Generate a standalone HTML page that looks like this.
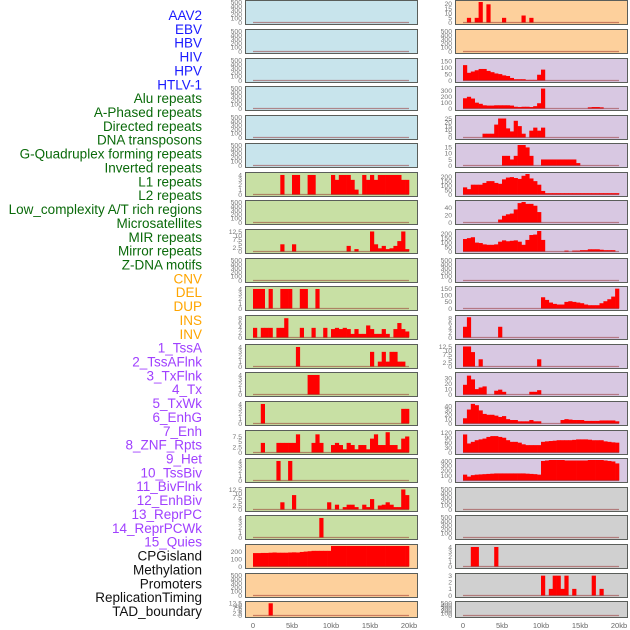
<!DOCTYPE html>
<html><head><meta charset="utf-8"><style>
html,body{margin:0;padding:0;background:#fff;}
svg{display:block;font-family:"Liberation Sans",sans-serif;}
</style></head><body>
<svg id="chart" width="630" height="630" viewBox="0 0 630 630" xmlns="http://www.w3.org/2000/svg"></svg>
<script>
const labels = ["AAV2","EBV","HBV","HIV","HPV","HTLV-1","Alu repeats","A-Phased repeats","Directed repeats","DNA transposons","G-Quadruplex forming repeats","Inverted repeats","L1 repeats","L2 repeats","Low_complexity A/T rich regions","Microsatellites","MIR repeats","Mirror repeats","Z-DNA motifs","CNV","DEL","DUP","INS","INV","1_TssA","2_TssAFlnk","3_TxFlnk","4_Tx","5_TxWk","6_EnhG","7_Enh","8_ZNF_Rpts","9_Het","10_TssBiv","11_BivFlnk","12_EnhBiv","13_ReprPC","14_ReprPCWk","15_Quies","CPGisland","Methylation","Promoters","ReplicationTiming","TAD_boundary"];
const labelGroups = [0,0,0,0,0,0,1,1,1,1,1,1,1,1,1,1,1,1,1,2,2,2,2,2,3,3,3,3,3,3,3,3,3,3,3,3,3,3,3,4,4,4,4,4];
const groupColors = ["#1a1aff","#0a6a0a","#ffa500","#a040ff","#111111"];
const xTickLabels = ["0","5kb","10kb","15kb","20kb"];
const xTickValues = [0,5,10,15,20];
const binKb = 0.5;
const ymaxes = [500,500,500,500,500,500,4.2,500,12.8,500,4.2,8.5,4.2,4.2,4.2,9.6,4.2,12.8,4.2,275,500,12.8,
                22,500,160,350,27,17,230,55,230,500,155,8.6,12.8,38,47,125,420,500,500,4.2,3.1,500];
const tick500 = [0,100,200,300,400,500];
const tick4 = [0,1,2,3,4];
const tick125 = [0,2.5,5,7.5,10,12.5];
const tickSets = [tick500,tick500,tick500,tick500,tick500,tick500,tick4,tick500,tick125,tick500,tick4,[0,2,4,6,8],tick4,tick4,tick4,[0,2.5,5,7.5],tick4,tick125,tick4,[0,100,200],tick500,tick125,
  [0,5,10,15,20],tick500,[0,50,100,150],[0,100,200,300],[0,5,10,15,20,25],[0,5,10,15],[0,50,100,150,200],[0,20,40],[0,50,100,150,200],tick500,[0,50,100,150],[0,2,4,6,8],tick125,[0,10,20,30],[0,10,20,30,40],[0,30,60,90,120],[0,100,200,300,400],tick500,tick500,tick4,[0,1,2,3],tick500];
const bgColors = ["#c8e4ec","#c8e0a4","#fdd09c","#d8c8e2","#d0d0d0"];
const panelGroups = [0,0,0,0,0,0,1,1,1,1,1,1,1,1,1,1,1,1,1,2,2,2,2,2,3,3,3,3,3,3,3,3,3,3,3,3,3,3,3,4,4,4,4,4];
const sAlu = [[7,4],[10,4],[11,4],[14,4],[15,4],[20,4],[21,3],[22,4],[23,4],[24,4],[25,3],[26,1],[28,4],[29,3],[30,4],[31,3],[32,4],[33,4],[34,4],[35,4],[36,4],[37,4],[38,3],[39,3]];
const sDirected = [[7,4.5],[10,4.5],[24,3.5],[26,1.5],[30,12.5],[31,4.5],[32,2],[33,3.5],[34,1.5],[35,2],[36,3.5],[37,6.5],[38,12.5],[39,1.5]];
const sGQuad = [[0,4],[1,4],[2,4],[4,4],[7,4],[8,4],[9,4],[12,4],[13,4],[16,4]];
const sInverted = [[0,4],[2,4],[3,4],[4,4],[6,4],[7,4],[8,8],[12,4],[15,4],[18,4],[20,3.5],[21,4],[22,3.5],[23,4],[24,3.5],[25,1.5],[26,3.5],[27,1.5],[28,1.5],[29,5],[30,3.5],[31,1.5],[32,1.5],[33,3.5],[34,1.5],[36,3.5],[37,6],[38,3.5],[39,2.5]];
const sL1 = [[11,4],[30,3],[32,1],[33,3],[34,1],[35,3],[36,3],[37,1],[38,1]];
const sL2 = [[14,4],[15,4],[16,4]];
const sLowAT = [[2,4],[38,3],[39,3]];
const sMicro = [[2,4.5],[6,4.5],[7,4.5],[8,4.5],[9,4.5],[10,4.5],[11,8.5],[15,4.5],[16,8.5],[17,4.5],[20,3.5],[21,4.5],[22,3.5],[23,1.5],[24,4.5],[25,3.5],[26,1.5],[27,3.5],[28,3.5],[29,1.5],[30,6.5],[31,8.5],[32,3.5],[33,3.5],[34,9.5],[35,3.5],[36,3.5],[37,1.5],[38,6.5],[39,7.5]];
const sMIR = [[6,4],[9,4]];
const sMirror = [[7,4.5],[10,9],[19,4.5],[21,3],[23,1.5],[24,3],[25,3],[26,1.5],[28,3],[29,1.5],[30,6.5],[32,2.5],[33,3],[34,4.5],[35,3],[36,1.5],[37,1.5],[38,12.5],[39,9]];
const sZDNA = [[17,4]];
const sCNV = [180,180,182,182,185,188,185,185,185,188,190,188,195,200,205,210,210,210,210,210,275,275,275,275,275,275,275,275,275,275,275,275,275,275,275,275,275,275,275,275];
const sDUP = [[4,12.5]];
const sINS = [[1,5],[3,5],[4,22],[6,19.5],[10,5],[15,7.5],[17,5]];
const sTssA = [[0,120],[1,60],[2,70],[3,80],[4,90],[5,90],[6,75],[7,65],[8,55],[9,50],[10,40],[11,35],[12,20],[13,10],[14,10],[15,10],[16,5],[17,5],[18,5],[19,45],[20,85]];
const sTssAFlnk = [[0,175],[1,200],[2,170],[3,100],[4,80],[5,55],[6,50],[7,50],[8,55],[9,55],[10,55],[11,55],[12,50],[13,30],[14,25],[15,30],[16,30],[17,25],[18,40],[19,90],[20,340],[32,20],[33,25],[34,25],[35,20]];
const sTxFlnk = [[5,5],[6,5],[7,5],[8,17],[9,25],[10,25],[11,12],[12,8],[13,22],[14,15],[15,5],[17,9],[18,13],[19,9],[20,13]];
const sTx = [[10,8],[11,8],[12,5],[13,8],[14,17],[15,17],[16,15],[17,8],[20,5],[21,5],[22,5],[23,5],[24,5],[25,5],[26,5],[27,5],[28,5],[29,2]];
const sTxWk = [80,60,110,110,110,130,150,150,130,120,170,190,195,185,175,210,230,180,150,110,40,15,15,15,15,15,15,15,15,15,15,15,15,15,15,15,15,15,15,15];
const sEnhG = [[9,8],[10,18],[11,22],[12,24],[13,35],[14,52],[15,55],[16,50],[17,50],[18,45],[19,28]];
const sEnh = [[0,140],[1,150],[2,160],[3,100],[4,95],[5,80],[6,75],[7,75],[8,80],[9,110],[10,125],[11,115],[12,120],[13,125],[14,110],[15,75],[16,130],[17,185],[18,190],[19,230],[20,130],[26,10],[28,10],[29,10],[30,15],[31,15],[32,25],[33,25],[34,25],[35,20],[36,15],[37,15],[38,15]];
const sHet = [[20,85],[21,65],[22,45],[23,35],[24,30],[25,30],[26,50],[27,55],[28,50],[29,45],[30,40],[31,30],[32,25],[33,25],[34,25],[35,40],[36,55],[37,70],[38,90],[39,150]];
const sTssBiv = [[0,4.5],[1,8.5],[9,4.5]];
const sBivFlnk = [[0,12.5],[1,12.5],[2,9],[4,4.5],[19,4.5]];
const sEnhBiv = [[0,18],[1,35],[2,28],[3,10],[4,13],[5,15],[8,7],[9,9],[10,5],[17,5],[18,5],[19,8]];
const sReprPC = [12,32,45,42,30,22,20,20,18,15,17,10,8,8,5,5,5,8,5,5,0,0,0,0,0,8,10,9,8,8,8,6,6,6,6,7,7,7,7,5];
const sReprPCWk = [110,55,65,75,80,85,95,100,100,95,90,75,65,65,60,50,45,45,45,45,65,68,70,72,75,75,75,75,77,80,80,80,78,75,75,75,68,65,62,60];
const sQuies = [120,80,110,120,125,130,135,140,145,145,145,145,145,145,145,145,140,135,130,120,400,410,420,420,420,420,410,410,410,410,410,410,420,420,420,420,410,400,390,350];
const sPromoters = [[2,4],[3,4],[8,4]];
const sRepl = [[20,3],[22,1],[23,3],[24,3],[25,1],[26,3],[28,1],[33,3],[35,1]];
const seriesList = [[],[],[],[],[],[],sAlu,[],sDirected,[],sGQuad,sInverted,sL1,sL2,sLowAT,sMicro,sMIR,sMirror,sZDNA,sCNV,[],sDUP,
  sINS,[],sTssA,sTssAFlnk,sTxFlnk,sTx,sTxWk,sEnhG,sEnh,[],sHet,sTssBiv,sBivFlnk,sEnhBiv,sReprPC,sReprPCWk,sQuies,[],[],sPromoters,sRepl,[]];

const NS = "http://www.w3.org/2000/svg";
const svg = document.getElementById("chart");
function mk(tag, attrs, parent){const e=document.createElementNS(NS,tag);for(const k in attrs)e.setAttribute(k,attrs[k]);(parent||svg).appendChild(e);return e;}

labels.forEach((t,i)=>{
  const e = mk("text",{x:202,y:20+i*13.86,"text-anchor":"end","font-size":"13.5",fill:groupColors[labelGroups[i]]});
  
  
  e.textContent = t;
});

const rowTops = [0,29,58,86,115,143,172,200,229,258,286,315,344,372,401,430,458,487,515,544,573,601];
const colBox = [245,455];
const colZero = [253,463];
const pxPerKb = 7.8;
function xScale(col,kb){return colZero[col]+kb*pxPerKb;}

for(let p=0;p<44;p++){
  const col = p<22?0:1, row = p%22;
  const top = rowTops[row], h = row===21?16:24;
  const bx = colBox[col], bw = 172;
  const g = mk("g",{});
  
  
  mk("rect",{x:bx+0.5,y:top+0.5,width:bw,height:h,fill:bgColors[panelGroups[p]],stroke:"#5a5e5a","stroke-width":1},g);
  const ymax = ymaxes[p];
  const y0 = top+h-1.5, y1 = top+2;
  const yS = v => y0-(v/ymax)*(y0-y1);
  tickSets[p].forEach(v=>{
    const t = mk("text",{x:bx-3,y:yS(v)+2.3,"text-anchor":"end","font-size":"6.8",fill:"#777"},g);
    
    
    t.textContent = String(v);
  });
  const s = seriesList[p];
  const bins = [];
  if(s.length && typeof s[0]==="number"){s.forEach((v,i)=>bins.push([i,v]));} else s.forEach(d=>bins.push(d));
  bins.forEach(([b,v])=>{
    if(!v) return;
    const xa = xScale(col,b*binKb), xb = xScale(col,(b+1)*binKb);
    const r = mk("rect",{x:xa,y:yS(v),width:xb-xa+0.3,height:y0-yS(v),fill:"#ff0000"},g);
    
    
  });
  mk("line",{x1:xScale(col,0),x2:xScale(col,20),y1:y0,y2:y0,stroke:"rgba(140,20,20,0.45)","stroke-width":1.2},g);
}
[0,1].forEach(col=>{
  xTickValues.forEach((v,i)=>{
    const t = mk("text",{x:xScale(col,v),y:628,"text-anchor":"middle","font-size":"7.5",fill:"#666"});
    
    
    t.textContent = xTickLabels[i];
  });
});
</script>
</body></html>
